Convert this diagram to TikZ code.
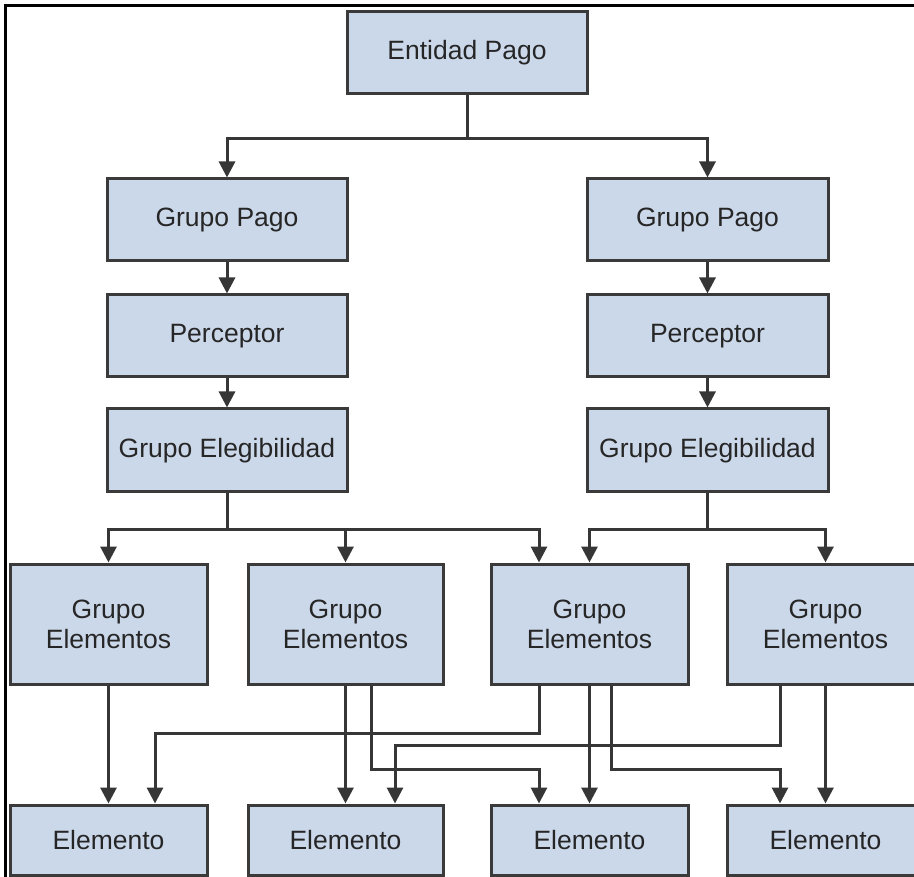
\documentclass[tikz,border=0pt]{standalone}
\usepackage{fontspec}
\setmainfont{Liberation Sans}
\usetikzlibrary{arrows.meta,calc}
\definecolor{boxfill}{HTML}{CBD8EA}
\definecolor{boxline}{HTML}{3A3A3A}
\definecolor{conn}{HTML}{363636}
\definecolor{txt}{HTML}{262626}
\tikzset{
  box/.style={draw=boxline, line width=3pt, fill=boxfill, rectangle, inner sep=0pt,
    text=txt, font=\fontsize{26.5}{30}\selectfont, align=center},
  arr/.style={draw=conn, line width=3pt, -{Triangle[length=16pt,width=16pt]}}
}
\begin{document}
\begin{tikzpicture}[x=1pt,y=-1pt]
\useasboundingbox (0,0) rectangle (914,877);
\clip (0,0) rectangle (914,877);
\fill[white] (0,0) rectangle (914,877);
\draw[black, line width=3pt] (5.5,6) rectangle (1000,1000);
% top
\node[box, minimum width=240, minimum height=82] (ep) at (467,53) {Entidad Pago};
\node[box, minimum width=240, minimum height=82] (gp1) at (227,220) {Grupo Pago};
\node[box, minimum width=241, minimum height=82] (gp2) at (707.5,220) {Grupo Pago};
\node[box, minimum width=240, minimum height=82] (pe1) at (227,336) {Perceptor};
\node[box, minimum width=241, minimum height=82] (pe2) at (707.5,336) {Perceptor};
\node[box, minimum width=240, minimum height=83] (eg1) at (227,450.5) {Grupo Elegibilidad};
\node[box, minimum width=241, minimum height=83] (eg2) at (707.5,450.5) {Grupo Elegibilidad};
% group elements
\node[box, minimum width=197, minimum height=120] (ge1) at (108.5,624) {Grupo\\Elementos};
\node[box, minimum width=195, minimum height=120] (ge2) at (345.5,624) {Grupo\\Elementos};
\node[box, minimum width=197, minimum height=120] (ge3) at (589.5,624) {Grupo\\Elementos};
\node[box, minimum width=197, minimum height=120] (ge4) at (825.5,624) {Grupo\\Elementos};
% elements
\node[box, minimum width=197, minimum height=70] (el1) at (108.5,840) {Elemento};
\node[box, minimum width=195, minimum height=70] (el2) at (345.5,840) {Elemento};
\node[box, minimum width=197, minimum height=70] (el3) at (589.5,840) {Elemento};
\node[box, minimum width=197, minimum height=70] (el4) at (825.5,840) {Elemento};
% connectors top
\draw[arr] (ep.south) -- ++(0,43) -| (gp1.north);
\draw[arr] (ep.south) -- ++(0,43) -| (gp2.north);
\draw[arr] (gp1) -- (pe1);
\draw[arr] (gp2) -- (pe2);
\draw[arr] (pe1) -- (eg1);
\draw[arr] (pe2) -- (eg2);
% eligibility buses
\draw[arr] (eg1.south) -- ++(0,36) -| (ge1.north);
\draw[arr] (eg1.south) -- ++(0,36) -| (ge2.north);
\draw[arr] (eg1.south) -- ++(0,36) -| ($(ge3.north)+(-50.5,0)$);
\draw[arr] (eg2.south) -- ++(0,36) -| (ge3.north);
\draw[arr] (eg2.south) -- ++(0,36) -| (ge4.north);
% bottom connectors
\draw[arr] (ge1) -- (el1);
\draw[arr] ($(ge3.south)+(-50.5,0)$) -- ++(0,48) -| ($(el1.north)+(46.5,0)$);
\draw[arr] (ge2) -- (el2);
\draw[arr] ($(ge2.south)+(25.5,0)$) -- ++(0,84) -| ($(el3.north)+(-50.5,0)$);
\draw[arr] ($(ge4.south)+(-45.5,0)$) -- ++(0,60) -| ($(el2.north)+(49.5,0)$);
\draw[arr] (ge3) -- (el3);
\draw[arr] ($(ge3.south)+(21.5,0)$) -- ++(0,84) -| ($(el4.north)+(-45.5,0)$);
\draw[arr] (ge4) -- (el4);
\end{tikzpicture}
\end{document}
